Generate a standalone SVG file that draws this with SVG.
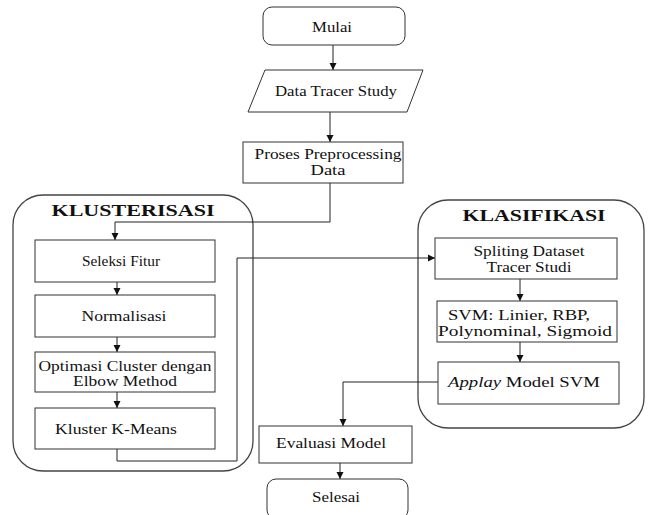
<svg xmlns="http://www.w3.org/2000/svg" width="648" height="515" viewBox="0 0 648 515" font-family="Liberation Serif, serif">
<style>
.node{fill:#fff;stroke:#333;stroke-width:1}
.cont{fill:none;stroke:#444;stroke-width:1.3}
.t{font-size:15px;fill:#111;text-anchor:middle}
.h{font-size:16px;font-weight:bold;fill:#111;text-anchor:middle}
.c{fill:none;stroke:#222;stroke-width:1}
</style>
<defs>
<marker id="ah" markerWidth="8" markerHeight="8" refX="7" refY="4" orient="auto" markerUnits="userSpaceOnUse">
<path d="M0,0.5 L7,4 L0,7.5 Z" fill="#111"/>
</marker>
</defs>
<rect width="648" height="515" fill="#fff"/>
<g id="klusterisasi">
<rect class="cont" x="13" y="195" width="240" height="276" rx="30" ry="30"/>
<text class="h" x="133" y="216" textLength="163" lengthAdjust="spacingAndGlyphs">KLUSTERISASI</text>
</g>
<g id="klasifikasi">
<rect class="cont" x="418" y="200" width="226" height="228" rx="30" ry="30"/>
<text class="h" x="534" y="221" textLength="143" lengthAdjust="spacingAndGlyphs">KLASIFIKASI</text>
</g>
<g id="connectors">
<line class="c" x1="333" y1="45" x2="333" y2="70" marker-end="url(#ah)"/>
<line class="c" x1="330" y1="112" x2="330" y2="142" marker-end="url(#ah)"/>
<polyline class="c" points="330,183 330,222 115,222 115,240" marker-end="url(#ah)"/>
<line class="c" x1="117" y1="282" x2="117" y2="295" marker-end="url(#ah)"/>
<line class="c" x1="117" y1="337" x2="117" y2="352" marker-end="url(#ah)"/>
<line class="c" x1="117" y1="392" x2="117" y2="408" marker-end="url(#ah)"/>
<polyline class="c" points="117,449 117,461 237,461 237,258 435,258" marker-end="url(#ah)"/>
<line class="c" x1="520" y1="279" x2="520" y2="301" marker-end="url(#ah)"/>
<line class="c" x1="520" y1="342" x2="520" y2="362" marker-end="url(#ah)"/>
<polyline class="c" points="438,382 343,382 343,426" marker-end="url(#ah)"/>
<line class="c" x1="340" y1="463" x2="340" y2="479" marker-end="url(#ah)"/>
</g>
<g id="mulai">
<rect class="node" x="263" y="7" width="142" height="38" rx="9" ry="9"/>
<text class="t" x="332" y="32" textLength="40" lengthAdjust="spacingAndGlyphs">Mulai</text>
</g>
<g id="data-tracer">
<polygon class="node" points="265,70 423,70 407,112 248,112"/>
<text class="t" x="336" y="96" textLength="122" lengthAdjust="spacingAndGlyphs">Data Tracer Study</text>
</g>
<g id="preprocessing">
<rect class="node" x="243" y="142" width="160" height="41"/>
<text class="t" x="328" y="159" textLength="147" lengthAdjust="spacingAndGlyphs">Proses Preprocessing</text>
<text class="t" x="328" y="175" textLength="35" lengthAdjust="spacingAndGlyphs">Data</text>
</g>
<g id="seleksi">
<rect class="node" x="35" y="240" width="180" height="42"/>
<text class="t" x="121" y="266" textLength="78" lengthAdjust="spacingAndGlyphs">Seleksi Fitur</text>
</g>
<g id="normalisasi">
<rect class="node" x="35" y="295" width="180" height="42"/>
<text class="t" x="124" y="321" textLength="85" lengthAdjust="spacingAndGlyphs">Normalisasi</text>
</g>
<g id="optimasi">
<rect class="node" x="35" y="352" width="180" height="40"/>
<text class="t" x="125" y="371" textLength="173" lengthAdjust="spacingAndGlyphs">Optimasi Cluster dengan</text>
<text class="t" x="125" y="386" textLength="104" lengthAdjust="spacingAndGlyphs">Elbow Method</text>
</g>
<g id="kmeans">
<rect class="node" x="35" y="408" width="180" height="41"/>
<text class="t" x="116" y="434" textLength="122" lengthAdjust="spacingAndGlyphs">Kluster K-Means</text>
</g>
<g id="spliting">
<rect class="node" x="435" y="238" width="182" height="41"/>
<text class="t" x="529" y="256" textLength="111" lengthAdjust="spacingAndGlyphs">Spliting Dataset</text>
<text class="t" x="529" y="272" textLength="85" lengthAdjust="spacingAndGlyphs">Tracer Studi</text>
</g>
<g id="svm">
<rect class="node" x="437" y="301" width="180" height="41"/>
<text class="t" x="519" y="320" textLength="142" lengthAdjust="spacingAndGlyphs">SVM: Linier, RBP,</text>
<text class="t" x="525" y="336" textLength="174" lengthAdjust="spacingAndGlyphs">Polynominal, Sigmoid</text>
</g>
<g id="applay">
<rect class="node" x="438" y="362" width="181" height="42"/>
<text class="t" x="524" y="387" textLength="152" lengthAdjust="spacingAndGlyphs"><tspan font-style="italic">Applay</tspan> Model SVM</text>
</g>
<g id="evaluasi">
<rect class="node" x="259" y="426" width="153" height="37"/>
<text class="t" x="331" y="448" textLength="110" lengthAdjust="spacingAndGlyphs">Evaluasi Model</text>
</g>
<g id="selesai">
<rect class="node" x="267" y="479" width="141" height="40" rx="9" ry="9"/>
<text class="t" x="336" y="502" textLength="48" lengthAdjust="spacingAndGlyphs">Selesai</text>
</g>
</svg>
